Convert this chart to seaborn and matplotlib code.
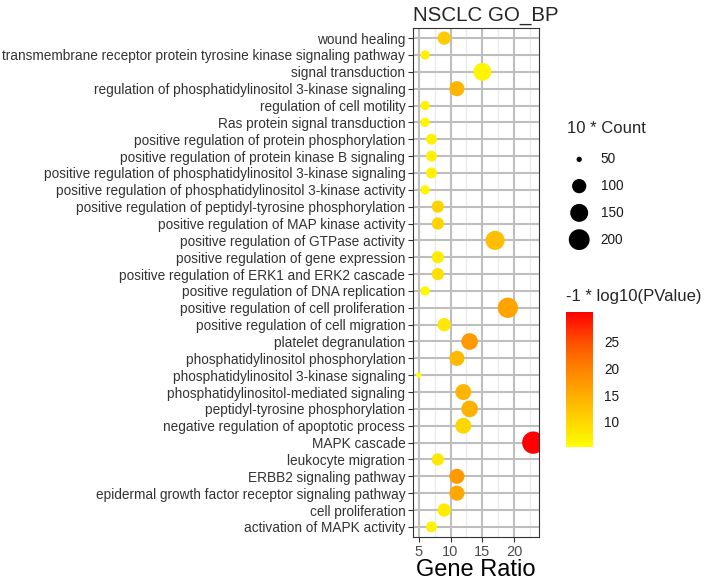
import matplotlib
matplotlib.use('Agg')
import matplotlib.pyplot as plt
import seaborn as sns
import pandas as pd
import numpy as np
from matplotlib.colors import LinearSegmentedColormap, Normalize
from matplotlib.cm import ScalarMappable
from matplotlib.ticker import MultipleLocator

terms = [
    'wound healing',
    'transmembrane receptor protein tyrosine kinase signaling pathway',
    'signal transduction',
    'regulation of phosphatidylinositol 3-kinase signaling',
    'regulation of cell motility',
    'Ras protein signal transduction',
    'positive regulation of protein phosphorylation',
    'positive regulation of protein kinase B signaling',
    'positive regulation of phosphatidylinositol 3-kinase signaling',
    'positive regulation of phosphatidylinositol 3-kinase activity',
    'positive regulation of peptidyl-tyrosine phosphorylation',
    'positive regulation of MAP kinase activity',
    'positive regulation of GTPase activity',
    'positive regulation of gene expression',
    'positive regulation of ERK1 and ERK2 cascade',
    'positive regulation of DNA replication',
    'positive regulation of cell proliferation',
    'positive regulation of cell migration',
    'platelet degranulation',
    'phosphatidylinositol phosphorylation',
    'phosphatidylinositol 3-kinase signaling',
    'phosphatidylinositol-mediated signaling',
    'peptidyl-tyrosine phosphorylation',
    'negative regulation of apoptotic process',
    'MAPK cascade',
    'leukocyte migration',
    'ERBB2 signaling pathway',
    'epidermal growth factor receptor signaling pathway',
    'cell proliferation',
    'activation of MAPK activity',
]
gene_ratio = [9, 6, 15, 11, 6, 6, 7, 7, 7, 6, 8, 8, 17, 8, 8,
              6, 19, 9, 13, 11, 5, 12, 13, 12, 23, 8, 11, 11, 9, 7]
count = [9, 6, 15, 11, 6, 6, 7, 7, 7, 6, 8, 8, 17, 8, 8,
         6, 19, 9, 13, 11, 5, 12, 13, 12, 23, 8, 11, 11, 9, 7]
neg_log_p = [11.5, 7.0, 6.5, 14.0, 7.0, 6.5, 7.0, 7.0, 7.0, 6.5, 10.5, 10.5, 13.0, 7.5, 9.0,
             6.0, 16.0, 8.0, 17.0, 13.5, 5.3, 14.0, 14.5, 10.0, 30.6, 8.0, 17.0, 15.5, 7.5, 7.0]

size_breaks = [50, 100, 150, 200]
color_ticks = [10, 15, 20, 25]

df = pd.DataFrame({'term': terms, 'ratio': gene_ratio,
                   'size10': [10 * c for c in count], 'logp': neg_log_p})

sns.set_theme(style='white')
plt.rcParams['font.family'] = ['Liberation Sans', 'DejaVu Sans']

cmap = LinearSegmentedColormap.from_list('yr', [
    (0.0, (1, 1, 0)), (0.19, (1, 0.84, 0)), (0.38, (1, 0.68, 0)),
    (0.58, (1, 0.51, 0)), (0.78, (1, 0.31, 0)), (1.0, (1, 0, 0))])
norm = Normalize(vmin=df.logp.min(), vmax=df.logp.max())

smin_v, smax_v = df.size10.min(), df.size10.max()


def size_of(v):
    # ggplot-like area scale: diameter grows with sqrt of the rescaled value
    t = (v - smin_v) / (smax_v - smin_v)
    d_px = 5.3 + 17.0 * np.sqrt(max(t, 0))
    return (0.72 * d_px) ** 2


W, H = 708, 583
fig = plt.figure(figsize=(W / 100, H / 100), dpi=100)
ax = fig.add_axes([413 / W, 1 - 537 / H, 126 / W, 509 / H])

sns.scatterplot(data=df, x='ratio', y='term', size='size10', hue='logp',
                palette=cmap, hue_norm=norm,
                sizes={v: size_of(v) for v in df.size10.unique()},
                linewidth=0, alpha=1, legend=False, ax=ax, zorder=3)

ax.set_xlim(4.1, 23.9)
ax.set_ylim(len(terms) - 0.4, -0.6)
ax.xaxis.set_major_locator(MultipleLocator(5))
ax.xaxis.set_minor_locator(MultipleLocator(2.5))
ax.grid(which='major', color='#BEBEBE', linewidth=1.5, zorder=0)
ax.grid(which='minor', axis='x', color='#EBEBEB', linewidth=1.0, zorder=0)
ax.set_axisbelow(True)
for sp in ax.spines.values():
    sp.set_color('#333333')
    sp.set_linewidth(0.8)
ax.tick_params(axis='both', which='major', length=3.5, width=0.8, color='#333333',
               left=True, bottom=True, pad=2)
ax.tick_params(axis='y', labelsize=9.8, labelcolor='#333333')
ax.tick_params(axis='x', labelsize=10.5, labelcolor='#4D4D4D')
ax.tick_params(which='minor', length=0)
ax.set_ylabel('')
ax.set_xlabel('Gene Ratio', fontsize=17, color='black', labelpad=0)
ax.set_title('NSCLC GO_BP', fontsize=14.8, loc='left', pad=5)

# size legend
fig.text(567 / W, 1 - 128 / H, '10 * Count', fontsize=12, va='center', ha='left')
lax = fig.add_axes([560 / W, 1 - 253 / H, 60 / W, 107 / H])
lax.set_axis_off()
lax.set_xlim(0, 1)
lax.set_ylim(len(size_breaks) - 0.5, -0.5)
lax.scatter([0.32] * len(size_breaks), range(len(size_breaks)),
            s=[size_of(v) for v in size_breaks], color='black', linewidth=0)
for i, v in enumerate(size_breaks):
    lax.text(0.68, i, str(v), fontsize=9.8, va='center', ha='left', color='#1A1A1A')

# colour bar
fig.text(566 / W, 1 - 297 / H, '-1 * log10(PValue)', fontsize=12, va='center', ha='left')
cax = fig.add_axes([566 / W, 1 - 447 / H, 27 / W, 135 / H])
cb = fig.colorbar(ScalarMappable(norm=norm, cmap=cmap), cax=cax, ticks=color_ticks)
cb.outline.set_visible(False)
cax.tick_params(axis='y', direction='in', length=5, width=0.8, color='white',
                left=True, right=True, labelsize=9.8, labelcolor='#1A1A1A', pad=8)

fig.savefig('out.png', dpi=100)
